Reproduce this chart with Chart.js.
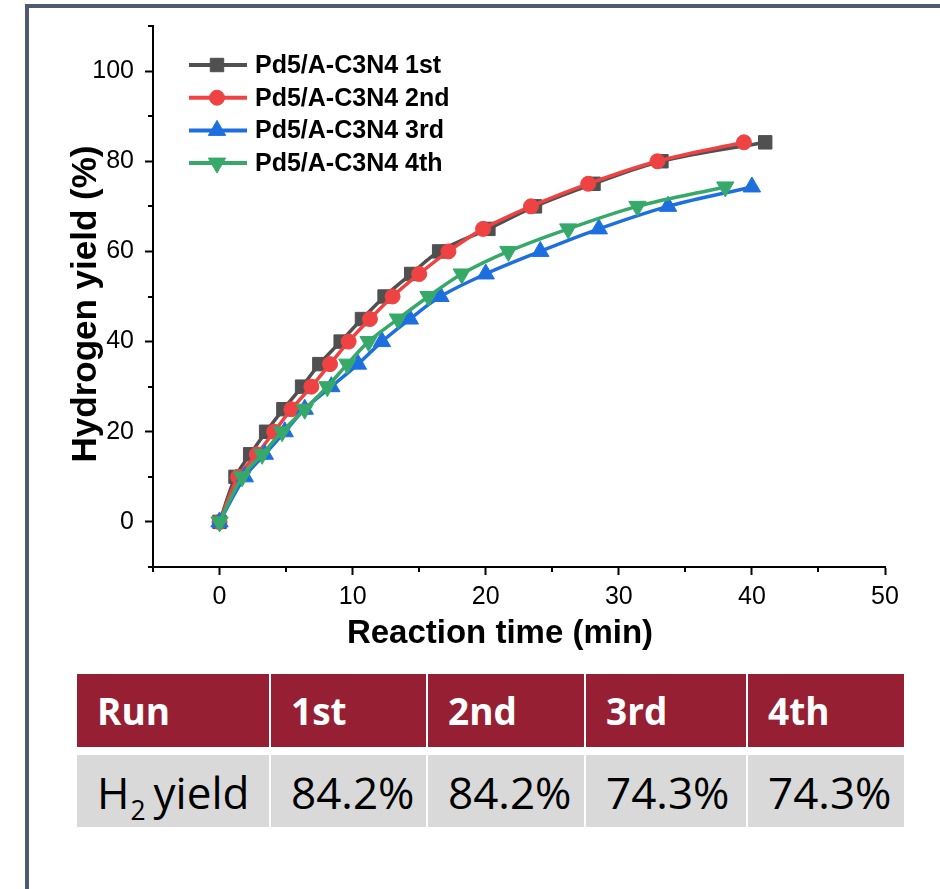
<!DOCTYPE html>
<html>
<head>
<meta charset="utf-8">
<script src="https://cdn.jsdelivr.net/npm/chart.js@4/dist/chart.umd.min.js"></script>
<style>
html,body{margin:0;padding:0;background:#fff;width:940px;height:889px;overflow:hidden;position:relative;}
#frame{position:absolute;left:25px;top:4px;width:2000px;height:2000px;border-left:4px solid #4e5a73;border-top:4px solid #4e5a73;box-sizing:border-box;}
#wrap{position:absolute;left:0;top:0;width:940px;height:660px;}
#tbl{position:absolute;left:77px;top:674px;display:grid;grid-template-columns:192px 155px 156px 160px 156px;grid-template-rows:73px 72px;column-gap:2px;row-gap:8px;}
.c{display:flex;align-items:center;padding-left:20px;box-sizing:border-box;white-space:nowrap;line-height:1;}
.h{background:#961f33;color:#fff;font:700 37px "Open Sans",sans-serif;}
.v{background:#d9d9d9;color:#000;font:400 44px "Open Sans",sans-serif;padding-top:2px;}
.v sub{font-size:0.6em;vertical-align:baseline;position:relative;top:0.42em;line-height:1;margin-right:8px;margin-left:1px;}
</style>
</head>
<body>
<div id="frame"></div>
<div id="wrap"><canvas id="chart" width="940" height="660"></canvas></div>
<div id="tbl"></div>
<script>
// ---------- data ----------
const seriesNames = ['Pd5/A-C3N4 1st', 'Pd5/A-C3N4 2nd', 'Pd5/A-C3N4 3rd', 'Pd5/A-C3N4 4th'];
const time1  = [0, 1.2, 2.3, 3.5, 4.8, 6.2, 7.5, 9.1, 10.7, 12.4, 14.4, 16.5, 20.2, 23.7, 28.1, 33.2, 41.0];
const yield1 = [0, 10, 15, 20, 25, 30, 35, 40, 45, 50, 55, 60, 65, 70, 75, 80, 84.2];
const time2  = [0, 1.4, 2.8, 4.1, 5.4, 6.9, 8.3, 9.7, 11.3, 13.0, 15.0, 17.2, 19.8, 23.4, 27.7, 32.9, 39.4];
const yield2 = [0, 10, 15, 20, 25, 30, 35, 40, 45, 50, 55, 60, 65, 70, 75, 80, 84.2];
const time3  = [0, 1.9, 3.4, 4.9, 6.4, 8.4, 10.4, 12.2, 14.3, 16.6, 20.0, 24.1, 28.5, 33.7, 40.0];
const yield3 = [0, 10, 15, 20, 25, 30, 35, 40, 45, 50, 55, 60, 65, 70, 74.3];
const time4  = [0, 1.7, 3.2, 4.7, 6.4, 8.1, 9.6, 11.2, 13.4, 15.7, 18.2, 21.7, 26.2, 31.4, 38.0];
const yield4 = [0, 10, 15, 20, 25, 30, 35, 40, 45, 50, 55, 60, 65, 70, 74.3];

const xTicksMajor = [0, 10, 20, 30, 40, 50];
const xTicksMinor = [-5, 5, 15, 25, 35, 45];
const yTicksMajor = [0, 20, 40, 60, 80, 100];
const yTicksMinor = [-10, 10, 30, 50, 70, 90, 110];
const xTitle = 'Reaction time (min)';
const yTitle = 'Hydrogen yield (%)';

const tableHeader = ['Run', '1st', '2nd', '3rd', '4th'];
const tableRowLabel = ['H', '2', 'yield'];
const tableYields = ['84.2%', '84.2%', '74.3%', '74.3%'];

// ---------- table ----------
const tbl = document.getElementById('tbl');
tableHeader.forEach(t => { const d = document.createElement('div'); d.className = 'c h'; d.textContent = t; tbl.appendChild(d); });
(function(){
  const d = document.createElement('div'); d.className = 'c v';
  const w = document.createElement('span');
  w.appendChild(document.createTextNode(tableRowLabel[0]));
  const s = document.createElement('sub'); s.textContent = tableRowLabel[1]; w.appendChild(s);
  w.appendChild(document.createTextNode(tableRowLabel[2]));
  d.appendChild(w);
  tbl.appendChild(d);
})();
tableYields.forEach(t => { const d = document.createElement('div'); d.className = 'c v'; d.textContent = t; tbl.appendChild(d); });

// ---------- chart ----------
const FONT = 'Arial, "Liberation Sans", sans-serif';
const colors = ['#505050', '#ef4242', '#1d6fe0', '#36a96a'];
const styles = ['rect', 'circle', 'triangle', 'triangle'];
const radii = [9.5, 7.5, 10, 10];
const rotations = [0, 0, 0, 180];
const times = [time1, time2, time3, time4];
const yields = [yield1, yield2, yield3, yield4];

const datasets = seriesNames.map((name, i) => ({
  label: name,
  data: times[i].map((t, k) => ({ x: t, y: yields[i][k] })),
  borderColor: colors[i],
  backgroundColor: colors[i],
  pointBackgroundColor: colors[i],
  pointBorderColor: colors[i],
  pointStyle: styles[i],
  pointRadius: radii[i],
  pointRotation: rotations[i],
  pointBorderWidth: 1,
  borderWidth: 3.5,
  tension: 0.35,
  order: 4 - i,
  clip: false
}));

function drawMarker(ctx, style, x, y, r, rot, color) {
  ctx.save();
  ctx.fillStyle = color; ctx.strokeStyle = color; ctx.lineWidth = 1;
  ctx.beginPath();
  if (style === 'rect') {
    const s = r * Math.SQRT1_2;
    ctx.rect(x - s, y - s, 2 * s, 2 * s);
  } else if (style === 'circle') {
    ctx.arc(x, y, r, 0, Math.PI * 2);
  } else {
    let a = rot * Math.PI / 180;
    ctx.moveTo(x + Math.sin(a) * r, y - Math.cos(a) * r);
    a += 2 * Math.PI / 3;
    ctx.lineTo(x + Math.sin(a) * r, y - Math.cos(a) * r);
    a += 2 * Math.PI / 3;
    ctx.lineTo(x + Math.sin(a) * r, y - Math.cos(a) * r);
    ctx.closePath();
  }
  ctx.fill(); ctx.stroke();
  ctx.restore();
}

const deco = {
  id: 'deco',
  afterDraw(chart) {
    const ctx = chart.ctx, xs = chart.scales.x, ys = chart.scales.y;
    ctx.save();
    // minor ticks
    ctx.strokeStyle = '#000'; ctx.lineWidth = 2;
    xTicksMinor.forEach(v => {
      const p = Math.round(xs.getPixelForValue(v));
      ctx.beginPath(); ctx.moveTo(p, ys.bottom); ctx.lineTo(p, ys.bottom + 5); ctx.stroke();
    });
    yTicksMinor.forEach(v => {
      const p = Math.round(ys.getPixelForValue(v));
      ctx.beginPath(); ctx.moveTo(xs.left - 5, p); ctx.lineTo(xs.left, p); ctx.stroke();
    });
    // axis titles
    ctx.fillStyle = '#000';
    ctx.textAlign = 'center'; ctx.textBaseline = 'middle';
    ctx.font = 'bold 33px ' + FONT;
    ctx.fillText(xTitle, 500, 634);
    ctx.save();
    ctx.font = 'bold 35px ' + FONT;
    ctx.translate(86, 304); ctx.rotate(-Math.PI / 2);
    ctx.fillText(yTitle, 0, 0);
    ctx.restore();
    // legend
    seriesNames.forEach((name, i) => {
      const ds = chart.data.datasets[i];
      const y = 65 + i * 32.7;
      ctx.strokeStyle = ds.borderColor; ctx.lineWidth = 4;
      ctx.beginPath(); ctx.moveTo(189, y); ctx.lineTo(247, y); ctx.stroke();
      drawMarker(ctx, ds.pointStyle, 217, y, ds.pointRadius, ds.pointRotation, ds.backgroundColor);
      ctx.fillStyle = '#000';
      ctx.font = 'bold 25px ' + FONT;
      ctx.textAlign = 'left'; ctx.textBaseline = 'middle';
      ctx.fillText(name, 255, y + 1);
    });
    ctx.restore();
  }
};

const tickFont = { family: FONT, size: 25 };

new Chart(document.getElementById('chart'), {
  type: 'line',
  data: { datasets },
  options: {
    responsive: false,
    animation: false,
    devicePixelRatio: 1,
    layout: { padding: { left: 0, top: 22, right: 55, bottom: 0 } },
    plugins: { legend: { display: false }, tooltip: { enabled: false } },
    scales: {
      x: {
        type: 'linear', min: -5, max: 50,
        afterBuildTicks: s => { s.ticks = xTicksMajor.map(v => ({ value: v })); },
        afterFit: s => { s.height = 93; },
        ticks: { font: tickFont, color: '#000', padding: 7, maxRotation: 0, autoSkip: false },
        grid: { display: true, drawOnChartArea: false, drawTicks: true, tickLength: 8, tickWidth: 2, tickColor: '#000' },
        border: { display: true, color: '#000', width: 2 },
        title: { display: false }
      },
      y: {
        type: 'linear', min: -10, max: 110,
        afterBuildTicks: s => { s.ticks = yTicksMajor.map(v => ({ value: v })); },
        afterFit: s => { s.width = 153; },
        ticks: { font: tickFont, color: '#000', padding: 11, autoSkip: false },
        grid: { display: true, drawOnChartArea: false, drawTicks: true, tickLength: 8, tickWidth: 2, tickColor: '#000' },
        border: { display: true, color: '#000', width: 2 },
        title: { display: false }
      }
    }
  },
  plugins: [deco]
});
</script>
</body>
</html>
